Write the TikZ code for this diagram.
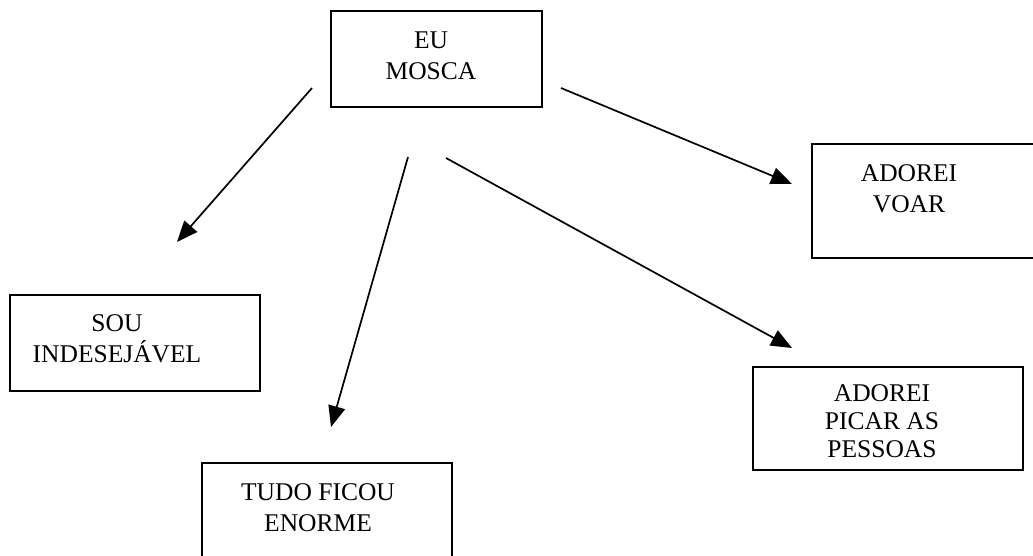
\documentclass[tikz,border=0pt]{standalone}
\usepackage{fontspec}
\setmainfont{Liberation Serif}
\usetikzlibrary{arrows.meta}
\tikzset{
  box/.style={draw, line width=1.8pt, rectangle, inner sep=0pt},
  lbl/.style={align=center, inner sep=0pt, font=\fontsize{25.5}{31}\selectfont},
  arr/.style={line width=1.7pt, -{Triangle[length=21pt,width=17pt]}}
}
\begin{document}
\begin{tikzpicture}[x=1pt,y=-1pt]
\useasboundingbox (0,0) rectangle (1033,556);
\clip (0,0) rectangle (1033,556);
% boxes
\node[box, minimum width=211pt, minimum height=96pt] (mosca) at (436.5,59) {};
\node[box, minimum width=224pt, minimum height=114pt] (voar) at (924,201) {};
\node[box, minimum width=250pt, minimum height=96pt] (sou) at (135,343) {};
\node[box, minimum width=270pt, minimum height=103pt] (picar) at (888,418.5) {};
\node[box, minimum width=250pt, minimum height=97pt] (tudo) at (327,511.5) {};
% labels
\node[lbl] (tmosca) at (431,56) {EU\\MOSCA};
\node[lbl] (tvoar) at (909,189) {ADOREI\\VOAR};
\node[lbl] (tsou) at (117,339) {SOU\\INDESEJÁVEL};
\node[lbl, font=\fontsize{25.5}{28}\selectfont] (tpicar) at (882,421) {ADOREI\\PICAR AS\\PESSOAS};
\node[lbl] (ttudo) at (318,508) {TUDO FICOU\\ENORME};
% connector ends
\coordinate (s1) at (312,88);  \coordinate (e1) at (177,242);
\coordinate (s2) at (408,157); \coordinate (e2) at (331,427);
\coordinate (s3) at (446,158); \coordinate (e3) at (792,348);
\coordinate (s4) at (561,88);  \coordinate (e4) at (792,184);
\draw[arr] (s1) -- (e1);
\draw[arr] (s2) -- (e2);
\draw[arr] (s3) -- (e3);
\draw[arr] (s4) -- (e4);
\end{tikzpicture}
\end{document}
